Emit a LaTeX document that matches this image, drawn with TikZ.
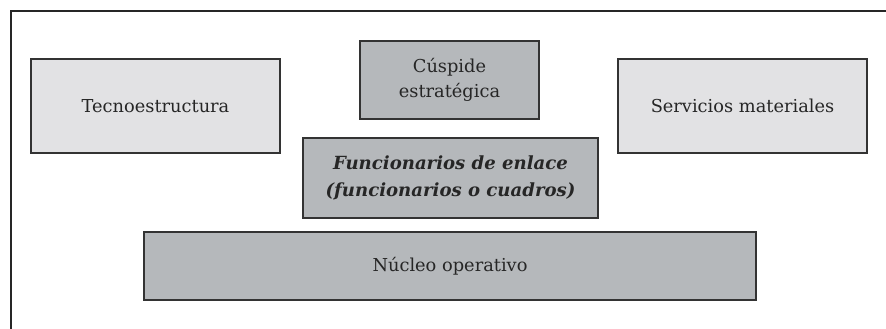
\documentclass[tikz,border=0pt]{standalone}
\usepackage{fontspec}
\setmainfont{DejaVu Serif}
\begin{document}
\begin{tikzpicture}[x=1pt,y=-1pt,
  boxbase/.style={draw=black!80, line width=1.6pt, inner sep=0pt, align=center,
    text=black!85, font=\fontsize{17.8}{25}\selectfont},
  lightbox/.style={boxbase, fill=lightfill},
  darkbox/.style={boxbase, fill=darkfill}]
\definecolor{lightfill}{HTML}{E2E2E4}
\definecolor{darkfill}{HTML}{B5B8BB}
\useasboundingbox (0,0) rectangle (886,329);
\fill[white] (0,0) rectangle (886,329);
\draw[line width=2.5pt, black!85] (11,329) -- (11,11) -- (886,11);
\node[lightbox, minimum width=249pt, minimum height=94pt] (tecno) at (155.5,106) {Tecnoestructura};
\node[lightbox, minimum width=249pt, minimum height=94pt] (serv) at (742.5,106) {Servicios materiales};
\node[darkbox, minimum width=179pt, minimum height=78pt] (cusp) at (449.5,80) {Cúspide\\estratégica};
\node[darkbox, minimum width=295pt, minimum height=80pt, font=\fontsize{18.1}{27}\selectfont\bfseries\itshape] (func) at (450.5,178) {Funcionarios de enlace\\(funcionarios o cuadros)};
\node[darkbox, minimum width=612pt, minimum height=68pt] (nucleo) at (450,266) {Núcleo operativo};
\end{tikzpicture}
\end{document}
